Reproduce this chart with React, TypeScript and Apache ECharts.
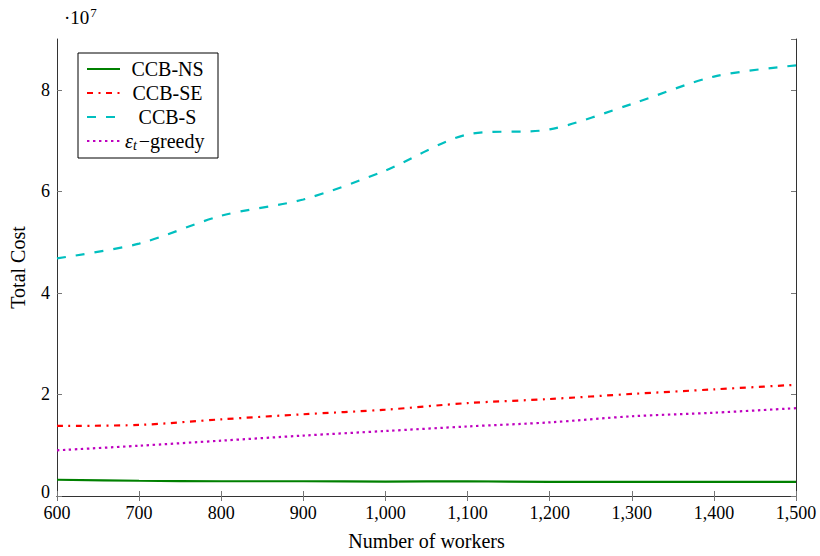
import React, { useEffect, useRef } from "react";
import * as echarts from "echarts";

const workers = [600, 700, 800, 900, 1000, 1100, 1200, 1300, 1400, 1500];
const ccbNS = [3.2e6, 3.0e6, 2.9e6, 2.9e6, 2.85e6, 2.9e6, 2.8e6, 2.8e6, 2.8e6, 2.8e6];
const ccbSE = [1.38e7, 1.4e7, 1.51e7, 1.61e7, 1.7e7, 1.83e7, 1.91e7, 2.01e7, 2.1e7, 2.19e7];
const ccbS = [4.68e7, 4.97e7, 5.52e7, 5.84e7, 6.41e7, 7.12e7, 7.22e7, 7.72e7, 8.26e7, 8.48e7];
const greedy = [0.9e7, 0.99e7, 1.09e7, 1.19e7, 1.28e7, 1.37e7, 1.45e7, 1.57e7, 1.64e7, 1.73e7];
const seriesNames = ["CCB-NS", "CCB-SE", "CCB-S", "greedy"];

const FONT = "'Liberation Serif', 'DejaVu Serif', serif";
const FRAME = "#333";

export default function App() {
  const ref = useRef<HTMLDivElement>(null);
  useEffect(() => {
    const chart = echarts.init(ref.current!, null, { renderer: "svg" });
    const pair = (arr: number[]) => workers.map((w, i) => [w, arr[i]]);
    const mk = (name: string, data: number[], color: string, type: any) => ({
      name,
      type: "line",
      data: pair(data),
      smooth: 0.3,
      showSymbol: false,
      symbol: "none",
      lineStyle: { color, width: 2.2, type },
      itemStyle: { color },
      z: 3,
    });
    const axisCommon = {
      axisLine: { show: true, lineStyle: { color: FRAME, width: 1 } },
      axisTick: { show: true, inside: true, length: 5, lineStyle: { color: "#777" } },
      splitLine: { show: false },
    };
    const center = { fontFamily: FONT, fontSize: 20, color: "#000", width: 85, align: "center" };
    chart.setOption({
      animation: false,
      backgroundColor: "#fff",
      grid: { left: 55, right: 24, top: 39, bottom: 53, containLabel: false },
      xAxis: [
        {
          type: "value",
          min: 600,
          max: 1500,
          interval: 100,
          ...axisCommon,
          axisLabel: {
            color: "#000",
            fontFamily: FONT,
            fontSize: 18,
            margin: 8,
            formatter: (v: number) => v.toLocaleString("en-US"),
          },
          name: "Number of workers",
          nameLocation: "middle",
          nameGap: 35,
          nameTextStyle: { color: "#000", fontFamily: FONT, fontSize: 20 },
        },
        {
          type: "value",
          position: "top",
          min: 600,
          max: 1500,
          interval: 100,
          ...axisCommon,
          axisLabel: { show: false },
        },
      ],
      yAxis: [
        {
          type: "value",
          min: 0,
          max: 9e7,
          interval: 2e7,
          ...axisCommon,
          axisLabel: {
            color: "#000",
            fontFamily: FONT,
            fontSize: 18,
            margin: 7,
            showMaxLabel: false,
            rich: { z: { fontFamily: FONT, fontSize: 18, color: "#000", padding: [0, 0, 8, 0] } },
            formatter: (v: number) => (v === 0 ? "{z|0}" : v % 2e7 === 0 ? String(v / 1e7) : ""),
          },
          name: "Total Cost",
          nameLocation: "middle",
          nameGap: 29,
          nameTextStyle: { color: "#000", fontFamily: FONT, fontSize: 20 },
        },
        {
          type: "value",
          position: "right",
          min: 0,
          max: 9e7,
          interval: 2e7,
          ...axisCommon,
          axisLabel: { show: false },
        },
      ],
      legend: {
        data: seriesNames,
        orient: "vertical",
        left: 78,
        top: 53,
        borderColor: "#000",
        borderWidth: 1,
        borderRadius: 0,
        padding: [6, 8, 6, 8],
        itemGap: 4,
        itemWidth: 33,
        itemHeight: 14,
        itemStyle: { opacity: 0 },
        textStyle: {
          color: "#000",
          fontFamily: FONT,
          fontSize: 20,
          lineHeight: 20,
          rich: {
            c: center,
            e: { fontFamily: FONT, fontSize: 20, fontStyle: "italic", color: "#000" },
            sub: { fontFamily: FONT, fontSize: 14, fontStyle: "italic", color: "#000", padding: [8, 2, 0, 0] },
            n: { fontFamily: FONT, fontSize: 20, color: "#000" },
          },
        },
        formatter: (name: string) => (name === "greedy" ? "{e|ε}{sub|t}{n|−greedy}" : `{c|${name}}`),
      },
      graphic: [
        {
          type: "text",
          left: 64,
          top: 6,
          style: {
            text: "·10{s|7}",
            fontFamily: FONT,
            fontSize: 19,
            fill: "#000",
            rich: {
              s: { fontFamily: FONT, fontSize: 13, padding: [0, 0, 10, 1] },
            },
          },
        },
      ],
      series: [
        mk("CCB-NS", ccbNS, "#008000", "solid"),
        mk("CCB-SE", ccbSE, "#ff0000", [6, 5.5, 2, 5.5]),
        mk("CCB-S", ccbS, "#00bfbf", [9, 10]),
        mk("greedy", greedy, "#bf00bf", [2.4, 3.6]),
      ],
    });
    return () => chart.dispose();
  }, []);
  return <div ref={ref} style={{ position: "absolute", left: 0, top: 0, width: 820, height: 556 }} />;
}
